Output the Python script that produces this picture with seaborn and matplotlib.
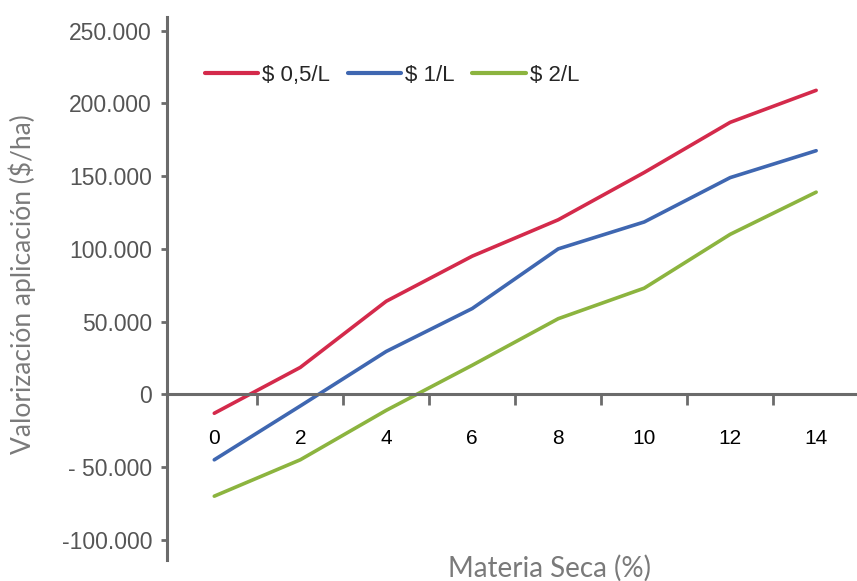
import matplotlib
matplotlib.use("Agg")
import matplotlib.pyplot as plt
from matplotlib.ticker import FixedLocator, FixedFormatter
import pandas as pd
import seaborn as sns

# Materia seca (%) and valorización de la aplicación ($/ha) por precio
materia_seca = [0, 2, 4, 6, 8, 10, 12, 14]
precio_05 = [-13000, 18500, 64000, 95000, 120000, 152500, 187000, 209000]
precio_1 = [-45000, -8000, 29500, 59000, 100000, 118500, 149000, 167500]
precio_2 = [-70000, -45000, -11000, 20000, 52000, 73000, 110000, 139000]
series_names = ["$ 0,5/L", "$ 1/L", "$ 2/L"]
y_ticks = [-100000, -50000, 0, 50000, 100000, 150000, 200000, 250000]
y_tick_labels = ["-100.000", "- 50.000", "0", "50.000", "100.000", "150.000", "200.000", "250.000"]
x_tick_labels = ["0", "2", "4", "6", "8", "10", "12", "14"]

df = pd.DataFrame({
    "Materia Seca": materia_seca * 3,
    "Valor": precio_05 + precio_1 + precio_2,
    "Precio": [series_names[0]] * 8 + [series_names[1]] * 8 + [series_names[2]] * 8,
})

sns.set_theme(style="white")
plt.rcParams["font.family"] = ["Liberation Sans", "DejaVu Sans"]

fig = plt.figure(figsize=(8.57, 5.81), dpi=100)
ax = fig.add_axes([0.1952, 0.0361, 0.8048, 0.9341])

palette = {series_names[0]: "#d42a4b", series_names[1]: "#3f67b1", series_names[2]: "#8cb43f"}
sns.lineplot(data=df, x="Materia Seca", y="Valor", hue="Precio", palette=palette,
             linewidth=2.6, ax=ax, legend=True)

ax.set_xlim(-1.093, 14.95)
ax.set_ylim(-113900, 259200)

# spines: left axis and horizontal axis crossing at zero
spine_color = "#6b6b6b"
for side in ("top", "right"):
    ax.spines[side].set_visible(False)
ax.spines["left"].set_color(spine_color)
ax.spines["left"].set_linewidth(2.2)
ax.spines["bottom"].set_color(spine_color)
ax.spines["bottom"].set_linewidth(2.2)
ax.spines["bottom"].set_position(("data", 0))

# y ticks
ax.yaxis.set_major_locator(FixedLocator(y_ticks))
ax.yaxis.set_major_formatter(FixedFormatter(y_tick_labels))
ax.tick_params(axis="y", which="major", direction="out", length=4, width=2,
               color=spine_color, labelsize=16.5, labelcolor="#555555", pad=7, left=True)

# x labels at even values, tick marks at odd values
ax.xaxis.set_major_locator(FixedLocator(materia_seca))
ax.xaxis.set_major_formatter(FixedFormatter(x_tick_labels))
ax.xaxis.set_minor_locator(FixedLocator([1, 3, 5, 7, 9, 11, 13]))
ax.tick_params(axis="x", which="major", length=0, labelsize=15, labelcolor="black", pad=25)
ax.tick_params(axis="x", which="minor", direction="out", length=8, width=2,
               color=spine_color, bottom=True)

label_font = ["Lato", "DejaVu Sans"]
ax.set_xlabel("Materia Seca (%)", family=label_font, fontsize=20, color="#7a7a7a")
ax.xaxis.set_label_coords(0.5536, -0.016)
ax.xaxis.label.set_va("center")
ax.set_ylabel("Valorización aplicación ($/ha)", family=label_font, fontsize=19,
              color="#7a7a7a")
ax.yaxis.set_label_coords(-0.21, 0.508)
ax.yaxis.label.set_va("center")

ax.grid(False)
leg = ax.legend(loc="center left", bbox_to_anchor=(0.0551, 0.8937), ncol=3, frameon=False,
                fontsize=16, handlelength=2.39, handletextpad=0.18, columnspacing=0.8,
                borderpad=0, borderaxespad=0, title=None)
for line in leg.get_lines():
    line.set_linewidth(3)

fig.savefig("out.png", dpi=100)
